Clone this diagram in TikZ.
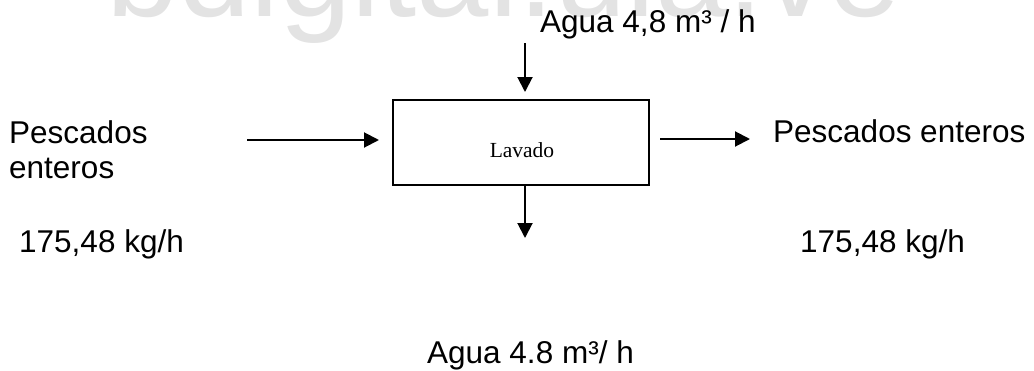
\documentclass[tikz,border=0pt]{standalone}
\usepackage{fontspec}
\setmainfont{Liberation Sans}
\newfontfamily\boxfont{Liberation Serif}
\usetikzlibrary{arrows.meta}
\begin{document}
\begin{tikzpicture}[x=1pt,y=-1pt,
  lbl/.style={anchor=base west,inner sep=0pt,font=\fontsize{31.5}{35}\selectfont},
  flow/.style={line width=2pt,-{Triangle[length=15pt,width=15pt]}},
  procbox/.style={draw,line width=2pt,minimum width=256pt,minimum height=85pt,inner sep=0pt}]
% page frame
\useasboundingbox (0,0) rectangle (1034,370);
\clip (0,0) rectangle (1034,370);
% repository watermark along the top edge
\node[anchor=base west,inner sep=0pt,text=gray!22,font=\fontsize{130}{130}\selectfont] (mark) at (106,16) {bdigital.ula.ve};
% process block
\node[procbox] (box) at (521,142.5) {};
\node[anchor=base,inner sep=0pt,font=\boxfont\fontsize{21.5}{24}\selectfont] (lavado) at (522,157) {Lavado};
% free ends of the streams
\coordinate (inL) at (247,140);
\coordinate (topS) at (525,43);
\coordinate (botE) at (525,238);
\coordinate (outR) at (750,139);
% streams
\draw[flow,shorten >=13pt] (inL) -- (inL -| box.west);
\draw[flow,shorten >=7pt] (topS) -- (topS |- box.north);
\draw[flow] (botE |- box.south) -- (botE);
\draw[flow,shorten <=10pt] (outR -| box.east) -- (outR);
% stream labels
\node[lbl] (pin1) at (9,143) {Pescados};
\node[lbl] (pin2) at (9,178) {enteros};
\node[lbl] (min) at (19,252) {175,48 kg/h};
\node[lbl] (pout) at (773,142) {Pescados enteros};
\node[lbl] (mout) at (800,252) {175,48 kg/h};
\node[lbl] (win) at (540,32) {Agua 4,8 m³ / h};
\node[lbl] (wout) at (427,363) {Agua 4.8 m³/ h};
\end{tikzpicture}
\end{document}
